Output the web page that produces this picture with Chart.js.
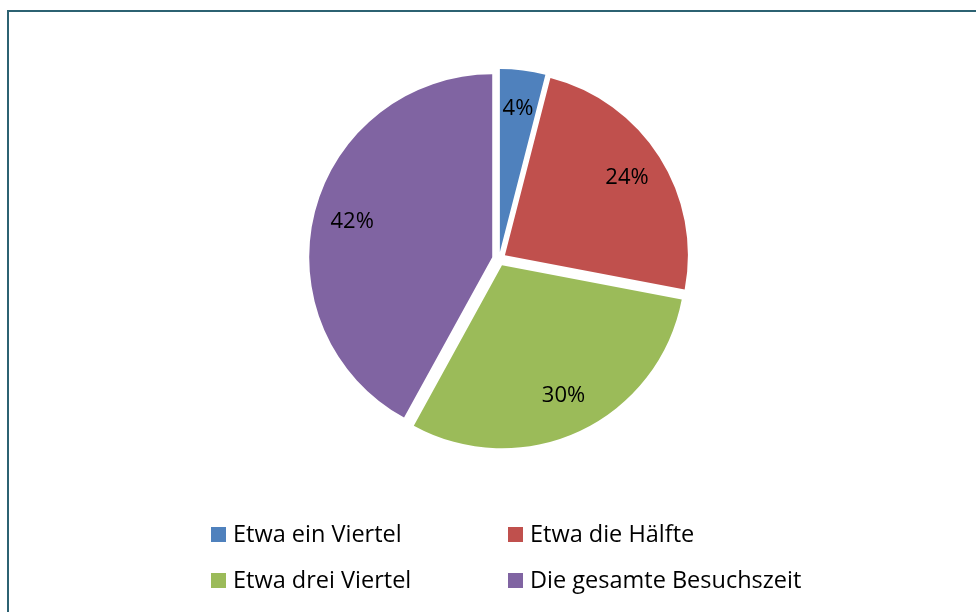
<!DOCTYPE html>
<html>
<head>
<meta charset="utf-8">
<script src="https://cdn.jsdelivr.net/npm/chart.js@4/dist/chart.umd.min.js"></script>
<style>
  html, body { margin: 0; padding: 0; background: #fff; overflow: hidden; }
  #wrap { position: relative; width: 976px; height: 612px; }
  #frame { position: absolute; left: 7px; top: 10px; width: 2000px; height: 2000px;
           border-left: 2px solid #2c6272; border-top: 2px solid #2c6272; box-sizing: border-box; }
  canvas { position: absolute; left: 0; top: 0; }
  .lg { position: absolute; font-family: "Open Sans", sans-serif; font-size: 23.5px; color: #000;
        white-space: nowrap; line-height: 1; }
  .lg .sw { position: absolute; left: 0; width: 15px; height: 15px; }
  .lg .tx { position: absolute; left: 22px; }
</style>
</head>
<body>
<div id="wrap">
  <div id="frame"></div>
  <canvas id="c" width="976" height="612"></canvas>
  <div id="legend"></div>
</div>
<script>
const categories = ["Etwa ein Viertel", "Etwa die Hälfte", "Etwa drei Viertel", "Die gesamte Besuchszeit"];
const shares = [4, 24, 30, 42];
const sliceColors = ["#4F81BD", "#C0504D", "#9BBB59", "#8064A2"];

// Exploded slices: move each arc outward along its mid-angle without enlarging it
const EXPLODE = 7;
const origArcDraw = Chart.ArcElement.prototype.draw;
Chart.ArcElement.prototype.draw = function (ctx) {
  const half = (this.startAngle + this.endAngle) / 2;
  ctx.save();
  ctx.translate(Math.cos(half) * EXPLODE, Math.sin(half) * EXPLODE);
  origArcDraw.call(this, ctx);
  ctx.restore();
};

const labelPlugin = {
  id: 'sliceLabels',
  afterDatasetsDraw(chart) {
    const ctx = chart.ctx;
    const meta = chart.getDatasetMeta(0);
    ctx.save();
    ctx.font = '22px "Open Sans", sans-serif';
    ctx.fillStyle = '#000';
    ctx.textAlign = 'center';
    ctx.textBaseline = 'middle';
    meta.data.forEach((arc, i) => {
      const p = arc.getProps(['x', 'y', 'startAngle', 'endAngle', 'outerRadius']);
      const mid = (p.startAngle + p.endAngle) / 2;
      const r = EXPLODE + p.outerRadius * 0.79;
      const x = p.x + Math.cos(mid) * r;
      const y = p.y + Math.sin(mid) * r;
      ctx.fillText(chart.data.datasets[0].data[i] + '%', x, y);
    });
    ctx.restore();
  }
};

const chart = new Chart(document.getElementById('c'), {
  type: 'pie',
  data: {
    labels: categories,
    datasets: [{
      data: shares,
      backgroundColor: sliceColors,
      borderWidth: 0,
      hoverBorderWidth: 0,
      offset: 0,
      hoverOffset: 0
    }]
  },
  options: {
    responsive: false,
    animation: false,
    events: [],
    layout: { padding: { left: 316, right: 294, top: 76, bottom: 170 } },
    plugins: {
      legend: { display: false },
      tooltip: { enabled: false }
    }
  },
  plugins: [labelPlugin]
});

// HTML legend built from the chart's own legend items (2 x 2 grid)
const colX = [211, 508];
const rowY = [527, 573];
const legendEl = document.getElementById('legend');
chart.options.plugins.legend.labels.generateLabels(chart).forEach((item, i) => {
  const d = document.createElement('div');
  d.className = 'lg';
  d.style.left = colX[i % 2] + 'px';
  d.style.top = rowY[Math.floor(i / 2)] + 'px';
  const sw = document.createElement('span');
  sw.className = 'sw';
  sw.style.background = item.fillStyle;
  const tx = document.createElement('span');
  tx.className = 'tx';
  tx.style.top = '-5px';
  tx.textContent = item.text;
  d.appendChild(sw);
  d.appendChild(tx);
  legendEl.appendChild(d);
});
</script>
</body>
</html>
